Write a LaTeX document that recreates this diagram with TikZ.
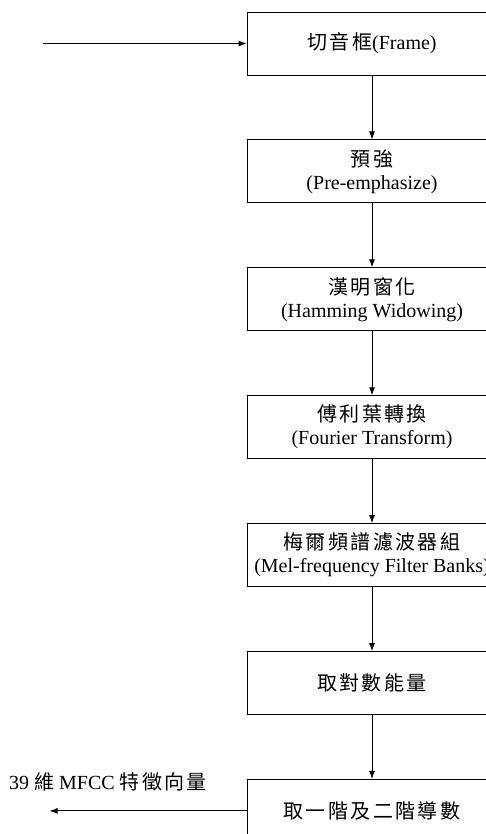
\documentclass[tikz,border=0pt]{standalone}
\usepackage{fontspec}
\setmainfont{Liberation Serif}
\newfontfamily\cjk[LetterSpace=12]{Noto Sans CJK TC}
\usetikzlibrary{positioning,arrows.meta}

\begin{document}
\begin{tikzpicture}[x=1pt,y=1pt,>={Latex[length=8pt,width=6pt]},line width=0.9pt,
    stage/.style={draw,minimum width=250pt,minimum height=63pt,inner sep=2pt,
      align=center,font=\fontsize{20}{23}\selectfont},
    node distance=64pt]
    \useasboundingbox (0,0) rectangle (486,-834);
    % processing chain
    \node[stage] (frame) at (372,-43.5) {{\cjk 切音框}(Frame)};
    \node[stage,below=of frame] (pre) {{\cjk 預強}\\(Pre-emphasize)};
    \node[stage,below=of pre] (ham) {{\cjk 漢明窗化}\\(Hamming Widowing)};
    \node[stage,below=of ham] (fft) {{\cjk 傅利葉轉換}\\(Fourier Transform)};
    \node[stage,below=of fft] (mel) {{\cjk 梅爾頻譜濾波器組}\\(Mel-frequency Filter Banks)};
    \node[stage,below=of mel] (logE) {\cjk 取對數能量};
    \node[stage,below=of logE] (delta) {\cjk 取一階及二階導數};
    \coordinate (in) at (43,-43.5);
    \coordinate[left=197pt of delta.west] (out);
    \node[font=\fontsize{20}{23}\selectfont] (feat) at (108,-782)
      {39 {\cjk 維} MFCC {\cjk 特徵向量}};
    \draw[->] (in) -- (frame);
    \draw[->] (frame) -- (pre);
    \draw[->] (pre) -- (ham);
    \draw[->] (ham) -- (fft);
    \draw[->] (fft) -- (mel);
    \draw[->] (mel) -- (logE);
    \draw[->] (logE) -- (delta);
    \draw[->] (delta) -- (out);
  \end{tikzpicture}
\end{document}
